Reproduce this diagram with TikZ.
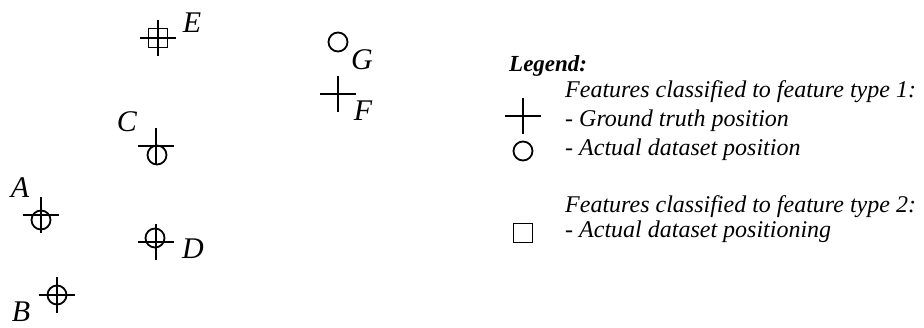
\documentclass[tikz,border=0pt]{standalone}
\usepackage{fontspec}
\setmainfont{Liberation Serif}
\usetikzlibrary{positioning}

\tikzset{
  truth/.pic={\draw[line width=1.8pt] (-18,0) -- (18,0) (0,-18) -- (0,18);},
  actual/.style={circle,draw,line width=1.8pt,minimum size=19pt,inner sep=0pt},
  actualbox/.style={rectangle,draw,line width=1.8pt,minimum size=19pt,inner sep=0pt},
  ptlabel/.style={font=\fontsize{30}{31}\selectfont\itshape,inner sep=0pt},
  legtext/.style={font=\fontsize{24}{26}\selectfont\itshape,inner sep=0pt,anchor=base west},
}

\begin{document}
\begin{tikzpicture}[x=1pt,y=-1pt]
\useasboundingbox (0,0) rectangle (924,327);

% points of type 1
\pic at (41,215) {truth};
\node[actual] (cA) at (41,220) {};
\node[ptlabel] (A) at (20,188) {A};

\pic at (57,295) {truth};
\node[actual] (cB) at (57,295) {};
\node[ptlabel] (B) at (21,312) {B};

\pic at (156,146) {truth};
\node[actual] (cC) at (157,155) {};
\node[ptlabel] (C) at (127,122) {C};

\pic at (156,242) {truth};
\node[actual] (cD) at (155,238) {};
\node[ptlabel] (D) at (193,249) {D};

\pic at (338,94) {truth};
\node[ptlabel] (F) at (363,111) {F};

\node[actual] (cG) at (338,42) {};
\node[ptlabel] (G) at (362,60) {G};

% point of type 2
\pic at (158,38) {truth};
\node[actualbox] (sE) at (158,38) {};
\node[ptlabel] (E) at (192,23) {E};

% legend
\node[legtext,font=\fontsize{23}{26}\selectfont\bfseries\itshape] (leg) at (509,71) {Legend:};
\node[legtext] (t1) at (565,97) {Features classified to feature type 1:};
\node[legtext] (t1a) at (565,126) {- Ground truth position};
\node[legtext] (t1b) at (565,155) {- Actual dataset position};
\pic at (523,116) {truth};
\node[actual] (legc) at (523,151) {};
\node[legtext] (t2) at (565,212) {Features classified to feature type 2:};
\node[legtext] (t2a) at (565,237) {- Actual dataset positioning};
\node[actualbox] (legs) at (523,233) {};
\end{tikzpicture}
\end{document}
